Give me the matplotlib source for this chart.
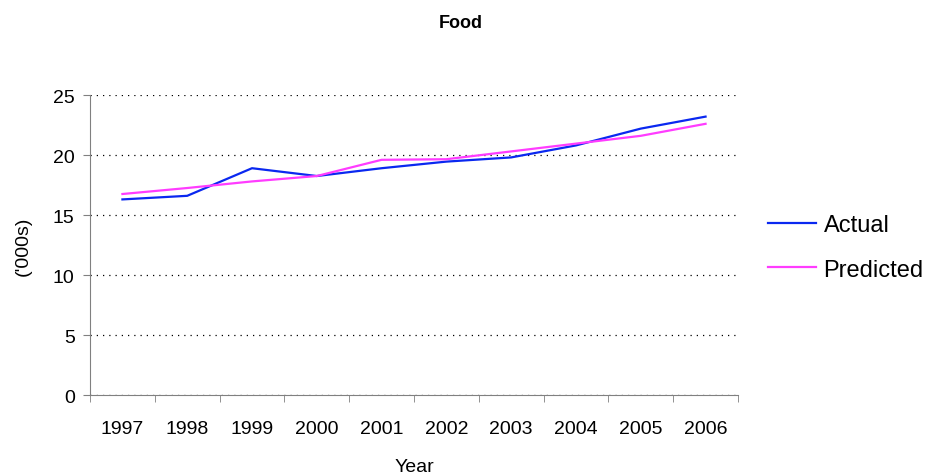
import matplotlib
matplotlib.use("Agg")
import matplotlib.pyplot as plt
import numpy as np

plt.rcParams['font.family'] = ['Liberation Sans', 'DejaVu Sans']

years = ['1997', '1998', '1999', '2000', '2001', '2002', '2003', '2004', '2005', '2006']
actual = [16.3, 16.6, 18.9, 18.25, 18.9, 19.45, 19.8, 20.8, 22.2, 23.2]
predicted = [16.75, 17.25, 17.8, 18.25, 19.6, 19.65, 20.3, 20.95, 21.6, 22.6]

fig = plt.figure(figsize=(9.3, 4.77), dpi=100)
ax = fig.add_axes([0.0968, 0.1698, 0.6967, 0.6289])

x = np.arange(len(years))
ax.plot(x, actual, color='#0A28F0', lw=1.6, label='Actual')
ax.plot(x, predicted, color='#FF3CFF', lw=1.6, label='Predicted')

ax.set_xlim(-0.5, len(years) - 0.5)
ax.set_ylim(0, 25)
ax.set_yticks(range(0, 26, 5))
ax.set_xticks(x)
ax.set_xticklabels(years)
ax.set_xticks(np.arange(-0.5, len(years)), minor=True)
ax.tick_params(axis='x', which='major', length=0, pad=18, labelsize=14)
ax.tick_params(axis='x', which='minor', length=5, color='#808080', direction='out')
ax.tick_params(axis='y', length=5, color='#808080', labelsize=14, pad=6)

ax.yaxis.grid(True, color='black', linestyle=(0, (1, 4)), lw=0.9)
ax.set_axisbelow(True)
for s in ['top', 'right']:
    ax.spines[s].set_visible(False)
for s in ['left', 'bottom']:
    ax.spines[s].set_color('#808080')

ax.set_xlabel('Year', fontsize=14, labelpad=15)
ax.set_ylabel("('000s)", fontsize=14, labelpad=15)
fig.text(0.495, 0.950, 'Food', ha='center', va='center', fontsize=13, fontweight='bold')

fig.legend(loc='center left', bbox_to_anchor=(0.803, 0.479), frameon=False,
           fontsize=17, handlelength=2.05, labelspacing=0.95, handletextpad=0.3)

fig.savefig('out.png', dpi=100)
